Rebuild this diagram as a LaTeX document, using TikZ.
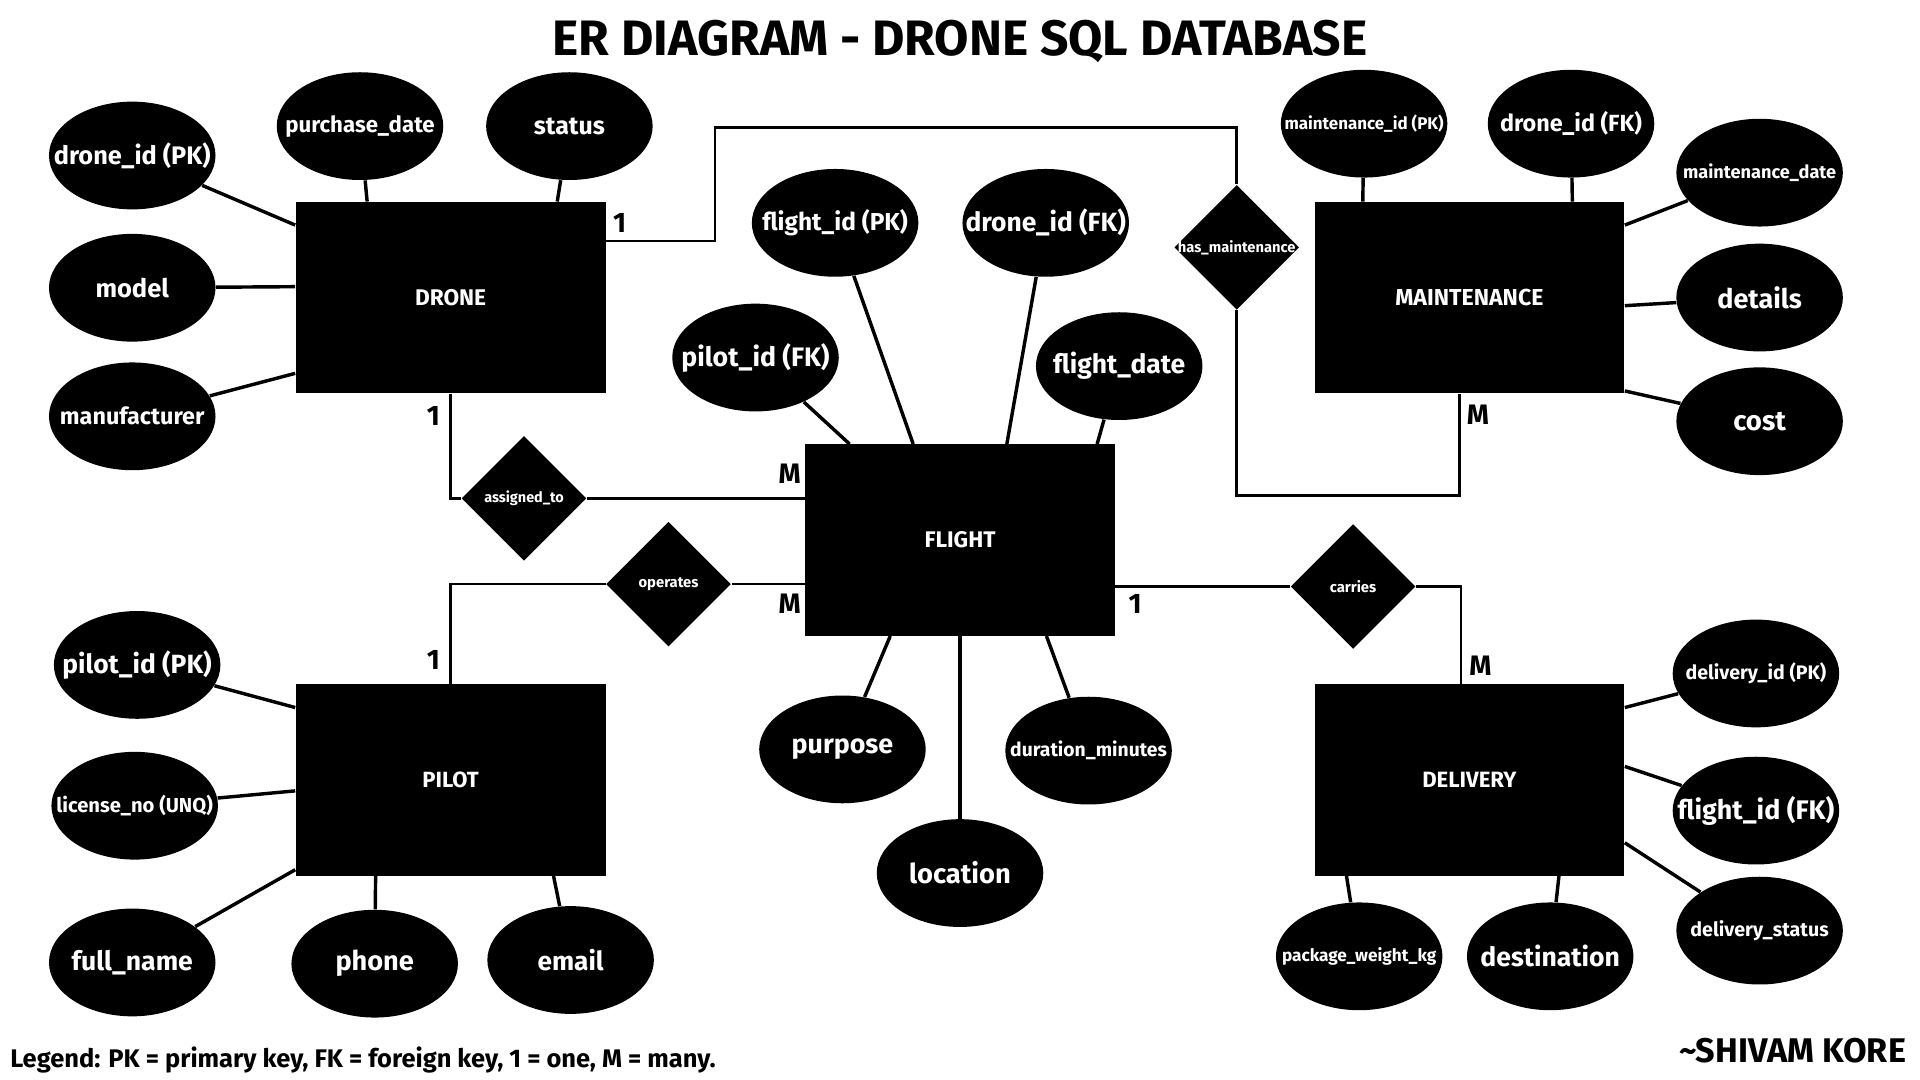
\documentclass[tikz,border=0pt]{standalone}
\usepackage{fontspec}
\setmainfont{Fira Sans}
\usepackage{graphicx}
\usetikzlibrary{shapes.geometric,calc}
\newlength\pxu
\setlength\pxu{0.5pt}
\newcommand\fitw[2]{\resizebox{#1\pxu}{!}{#2}}
\newcommand\zw[1]{\makebox[0pt]{#1}}
\begin{document}
\begin{tikzpicture}[x=0.5pt,y=-0.5pt,
  attr/.style={ellipse, fill=black, text=white, font=\bfseries, inner sep=0pt, minimum width=68pt, minimum height=44pt},
  ent/.style={rectangle, fill=black, text=white, font=\bfseries, inner sep=0pt, minimum width=126.5pt, minimum height=78pt},
  relbox/.style={diamond, aspect=1, fill=black, text=white, font=\bfseries, inner sep=0pt, minimum width=51pt, minimum height=51pt},
  card/.style={font=\fontsize{11.5}{12}\selectfont\bfseries, inner sep=0pt},
  al/.style={line width=1.4pt},
  rl/.style={line width=1.1pt}]
\fill[white] (0,0) rectangle (1568,882);
\useasboundingbox (0,0) rectangle (1568,882);

% title, legend, author
\node[font=\bfseries, inner sep=0pt] (title) at (784,34) {\fitw{665}{ER DIAGRAM - DRONE SQL DATABASE}};
\node[font=\bfseries, inner sep=0pt, anchor=west] (legend) at (8,866) {\fitw{576}{Legend: PK = primary key, FK = foreign key, 1 = one, M = many.}};
\node[font=\bfseries, inner sep=0pt, anchor=east] (author) at (1557,858) {\fitw{185}{\textasciitilde SHIVAM KORE}};

% entities
\node[ent] (drone) at (368,243) {\fitw{58}{DRONE}};
\node[ent] (maint) at (1200,243) {\fitw{121}{MAINTENANCE}};
\node[ent] (flight) at (784,441) {\fitw{58}{FLIGHT}};
\node[ent] (pilot) at (368,637) {\fitw{46}{PILOT}};
\node[ent] (deliv) at (1200,637) {\fitw{77}{DELIVERY}};

% relationships
\node[relbox] (assign) at (428,407) {\zw{\fitw{65}{assigned\_to}}};
\node[relbox] (oper) at (546,477) {\zw{\fitw{49}{operates}}};
\node[relbox] (carry) at (1105,479) {\zw{\fitw{38}{carries}}};
\node[relbox] (hasm) at (1010,202) {\zw{\fitw{96}{has\_maintenance}}};

% drone attributes
\node[attr] (d_id) at (108,127) {\zw{\fitw{128}{drone\_id (PK)}}};
\node[attr] (pdate) at (294,103) {\zw{\fitw{122}{purchase\_date}}};
\node[attr] (status) at (465,103) {\zw{\fitw{58}{status}}};
\node[attr] (model) at (108,235) {\zw{\fitw{60}{model}}};
\node[attr] (manuf) at (108,340) {\zw{\fitw{118}{manufacturer}}};

% maintenance attributes
\node[attr] (m_id) at (1114,101) {\zw{\fitw{130}{maintenance\_id (PK)}}};
\node[attr] (m_did) at (1283,101) {\zw{\fitw{116}{drone\_id (FK)}}};
\node[attr] (m_date) at (1437,141) {\zw{\fitw{125}{maintenance\_date}}};
\node[attr] (details) at (1437,243) {\zw{\fitw{69}{details}}};
\node[attr] (cost) at (1437,344) {\zw{\fitw{43}{cost}}};

% flight attributes
\node[attr] (f_id) at (682,182) {\zw{\fitw{119}{flight\_id (PK)}}};
\node[attr] (f_did) at (854,182) {\zw{\fitw{131}{drone\_id (FK)}}};
\node[attr] (f_pid) at (617,292) {\zw{\fitw{121}{pilot\_id (FK)}}};
\node[attr] (f_date) at (914,299) {\zw{\fitw{108}{flight\_date}}};
\node[attr] (purpose) at (688,612) {\zw{\fitw{83}{purpose}}};
\node[attr] (location) at (784,713) {\zw{\fitw{83}{location}}};
\node[attr] (duration) at (889,613) {\zw{\fitw{128}{duration\_minutes}}};

% pilot attributes
\node[attr] (p_id) at (112,543) {\zw{\fitw{122}{pilot\_id (PK)}}};
\node[attr] (lic) at (110,658) {\zw{\fitw{128}{license\_no (UNQ)}}};
\node[attr] (fname) at (108,786) {\zw{\fitw{99}{full\_name}}};
\node[attr] (phone) at (306,787) {\zw{\fitw{64}{phone}}};
\node[attr] (email) at (466,784) {\zw{\fitw{54}{email}}};

% delivery attributes
\node[attr] (dl_id) at (1434,550) {\zw{\fitw{115}{delivery\_id (PK)}}};
\node[attr] (dl_fid) at (1434,662) {\zw{\fitw{128}{flight\_id (FK)}}};
\node[attr] (dl_status) at (1437,760) {\zw{\fitw{113}{delivery\_status}}};
\node[attr] (pkg) at (1110,781) {\zw{\fitw{126}{package\_weight\_kg}}};
\node[attr] (dest) at (1266,781) {\zw{\fitw{114}{destination}}};

% attribute connectors
\draw[al] (d_id) -- (drone.155);
\draw[al] (pdate) -- (drone.131);
\draw[al] (status) -- (drone.42);
\draw[al] (model) -- (drone.176);
\draw[al] (manuf) -- (drone.206);

\draw[al] (m_id) -- (maint.138);
\draw[al] (m_did) -- (maint.43);
\draw[al] (m_date) -- (maint.25);
\draw[al] (details) -- (maint.357);
\draw[al] (cost) -- (maint.329);

\draw[al] (f_pid) -- (flight.139);
\draw[al] (f_id) -- (flight.116);
\draw[al] (f_did) -- (flight.64);
\draw[al] (f_date) -- (flight.35);
\draw[al] (purpose) -- (flight.234);
\draw[al] (location) -- (flight.270);
\draw[al] (duration) -- (flight.312);

\draw[al] (p_id) -- (pilot.155);
\draw[al] (lic) -- (pilot.184);
\draw[al] (fname) -- (pilot.210);
\draw[al] (phone) -- (pilot.232);
\draw[al] (email) -- (pilot.317);

\draw[al] (dl_id) -- (deliv.25);
\draw[al] (dl_fid) -- (deliv.5);
\draw[al] (dl_status) -- (deliv.338);
\draw[al] (pkg) -- (deliv.218);
\draw[al] (dest) -- (deliv.313);

% relationship connectors
\draw[rl] (drone.20) -| (584,104) -| (hasm.north);
\draw[rl] (hasm.south) -- ++(0,151) -| (maint.264);
\draw[rl] (drone.south) |- (assign.west);
\draw[rl] (assign.east) -- (assign.east -| flight.west);
\draw[rl] (pilot.north) |- (oper.west);
\draw[rl] (oper.east) -- (oper.east -| flight.west);
\draw[rl] (carry.west -| flight.east) -- (carry.west);
\draw[rl] (carry.east) -| (deliv.95);

% cardinalities
\node[card] (c1) at (506,182) {1};
\node[card] (c2) at (354,340) {1};
\node[card] (c3) at (645,387) {M};
\node[card] (c4) at (645,493) {M};
\node[card] (c5) at (354,539) {1};
\node[card] (c6) at (927,493) {1};
\node[card] (c7) at (1209,544) {M};
\node[card] (c8) at (1207,339) {M};
\end{tikzpicture}
\end{document}
